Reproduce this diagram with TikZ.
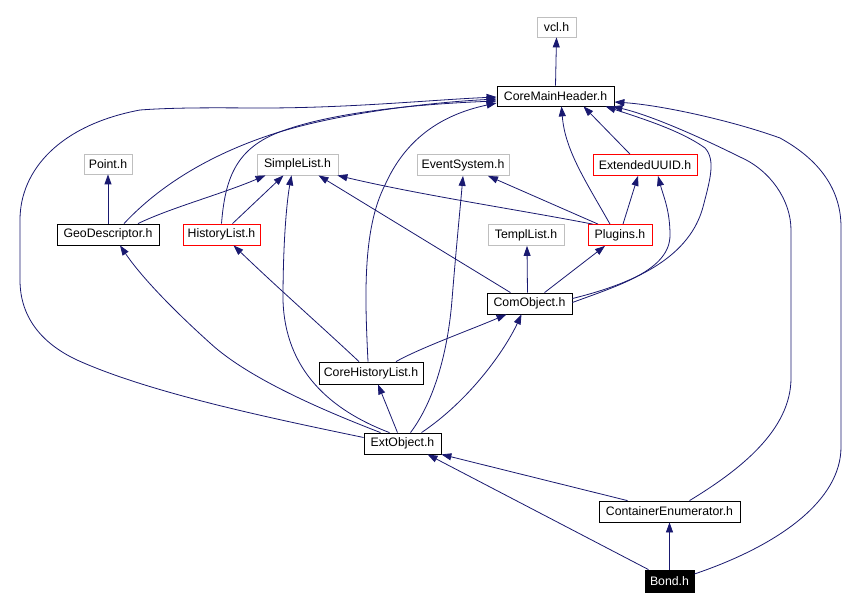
\documentclass[tikz,border=0pt]{standalone}
\usepackage{fontspec}
\setmainfont{Liberation Sans}
\usetikzlibrary{arrows.meta,calc}
\definecolor{edgeblue}{HTML}{191970}
\definecolor{extgray}{HTML}{BFBFBF}
\tikzset{
  filebox/.style={draw=black, line width=0.8pt, fill=white, inner sep=0pt, minimum height=21pt, font=\fontsize{12.3}{14}\selectfont, text=black},
  extbox/.style={filebox, draw=extgray},
  redbox/.style={filebox, draw=red},
  curbox/.style={filebox, fill=black, text=white},
  dep/.style={draw=edgeblue, line width=0.8pt, -{Triangle[length=10pt,width=7pt]}, fill=none},
}
\begin{document}
\begin{tikzpicture}[x=1pt,y=-1pt]
\useasboundingbox (0,0) rectangle (860,609);
\fill[white] (0,0) rectangle (860,609);
% nodes
\node[extbox, minimum width=39pt, minimum height=20pt] (vcl) at (556.5,27) {vcl.h};
\node[filebox, minimum width=117pt, minimum height=20pt] (cmh) at (555.5,96) {CoreMainHeader.h};
\node[extbox, minimum width=48pt, minimum height=20pt] (point) at (108,164) {Point.h};
\node[extbox, minimum width=81pt] (slist) at (297.5,164.5) {SimpleList.h};
\node[extbox, minimum width=92pt] (evsys) at (463,165) {EventSystem.h};
\node[redbox, minimum width=104pt] (euuid) at (645,165) {ExtendedUUID.h};
\node[filebox, minimum width=102pt] (geo) at (108,234.5) {GeoDescriptor.h};
\node[redbox, minimum width=77pt] (hist) at (221.5,234.5) {HistoryList.h};
\node[extbox, minimum width=76pt] (templ) at (526,235) {TemplList.h};
\node[redbox, minimum width=64pt] (plug) at (620,235) {Plugins.h};
\node[filebox, minimum width=85pt] (com) at (529.5,303.5) {ComObject.h};
\node[filebox, minimum width=104pt, minimum height=22pt] (chl) at (371,373) {CoreHistoryList.h};
\node[filebox, minimum width=77pt] (ext) at (402.5,443.5) {ExtObject.h};
\node[filebox, minimum width=141pt] (ce) at (669.5,511.5) {ContainerEnumerator.h};
\node[curbox, minimum width=49pt, minimum height=22pt] (bond) at (669.5,581) {Bond.h};
% edges
\draw[dep] (cmh.north) -- (vcl.south);
\draw[dep] (geo.north) -- (point.south);
\draw[dep] ($(geo.north)+(30,0)$) .. controls (170,208) and (222,194) .. ($(slist.south)+(-32,0)$);
\draw[dep] ($(geo.north)+(16,0)$) .. controls (160,185) and (210,155) .. (270,135) .. controls (330,115) and (420,103) .. ($(cmh.west)+(0,3)$);
\draw[dep] ($(hist.north)+(11,0)$) -- ($(slist.south)+(-14,0)$);
\draw[dep] (hist.north) .. controls (225,180) and (235,150) .. (277,133) .. controls (330,112) and (420,104) .. ($(cmh.west)+(0,5)$);
\draw[dep] ($(ext.west)+(0,-6)$) .. controls (270,418) and (150,393) .. (77,360) .. controls (45,345) and (20,320) .. (20,280) -- (20,220) .. controls (20,170) and (60,125) .. (140,110) .. controls (180,107) and (230,108) .. (263,108) .. controls (350,108) and (430,100) .. ($(cmh.west)+(0,1)$);
\draw[dep] ($(ext.north)+(-22,0)$) .. controls (330,413) and (250,380) .. (210,343) .. controls (170,307) and (140,275) .. ($(geo.south)+(12,0)$);
\draw[dep] ($(ext.north)+(-13,0)$) .. controls (330,410) and (285,370) .. (283,300) .. controls (283,240) and (287,200) .. ($(slist.south)+(-6,0)$);
\draw[dep] ($(ext.north)+(-5,0)$) -- ($(chl.south)+(7,0)$);
\draw[dep] ($(ext.north)+(8,0)$) .. controls (435,400) and (448,350) .. (452,300) .. controls (456,250) and (460,210) .. (evsys.south);
\draw[dep] ($(ext.north)+(19,0)$) .. controls (470,400) and (505,350) .. ($(com.south)+(-8,0)$);
\draw[dep] ($(chl.north)+(-12,0)$) .. controls (320,325) and (280,290) .. ($(hist.south)+(12,0)$);
\draw[dep] ($(chl.north)+(-3,0)$) .. controls (365,300) and (362,230) .. (385,185) .. controls (405,140) and (440,115) .. ($(cmh.west)+(0,7)$);
\draw[dep] ($(chl.north)+(25,0)$) .. controls (420,348) and (470,330) .. ($(com.south)+(-23,0)$);
\draw[dep] ($(com.north)+(-19,0)$) -- ($(slist.south)+(21,0)$);
\draw[dep] ($(com.north)+(-2,0)$) -- ($(templ.south)+(1,0)$);
\draw[dep] ($(com.north)+(15,0)$) -- ($(plug.south)+(-15,0)$);
\draw[dep] ($(com.east)+(0,-5)$) .. controls (640,282) and (690,255) .. (703,207) .. controls (710,180) and (716,160) .. (705,148) .. controls (680,130) and (640,118) .. ($(cmh.south)+(50,0)$);
\draw[dep] ($(com.east)+(0,-1)$) .. controls (620,285) and (670,270) .. (670,235) .. controls (670,210) and (663,195) .. ($(euuid.south)+(13,0)$);
\draw[dep] ($(plug.north)+(3,0)$) -- ($(euuid.south)+(-7,0)$);
\draw[dep] ($(plug.north)+(-22,0)$) -- ($(evsys.south)+(25,0)$);
\draw[dep] ($(plug.north west)+(5,0)$) .. controls (520,210) and (420,195) .. ($(slist.south east)+(-1,0)$);
\draw[dep] ($(plug.north)+(-10,0)$) .. controls (585,180) and (565,150) .. ($(cmh.south)+(6,0)$);
\draw[dep] ($(euuid.north)+(-15,0)$) -- ($(cmh.south)+(28,0)$);
\draw[dep] ($(ce.north)+(-42,0)$) -- (ext.south east);
\draw[dep] ($(ce.north)+(20,0)$) .. controls (740,470) and (791,430) .. (791,378) -- (791,230) .. controls (791,200) and (770,170) .. (740,157) .. controls (700,137) and (650,115) .. ($(cmh.south east)+(-2,0)$);
\draw[dep] ($(bond.north)+(-21,0)$) -- ($(ext.south)+(25,0)$);
\draw[dep] (bond.north) -- (ce.south);
\draw[dep] ($(bond.east)+(0,-7)$) .. controls (780,545) and (841,500) .. (841,447) -- (841,227) .. controls (841,190) and (820,160) .. (780,138) .. controls (730,120) and (660,105) .. ($(cmh.east)+(0,6)$);
\end{tikzpicture}
\end{document}
